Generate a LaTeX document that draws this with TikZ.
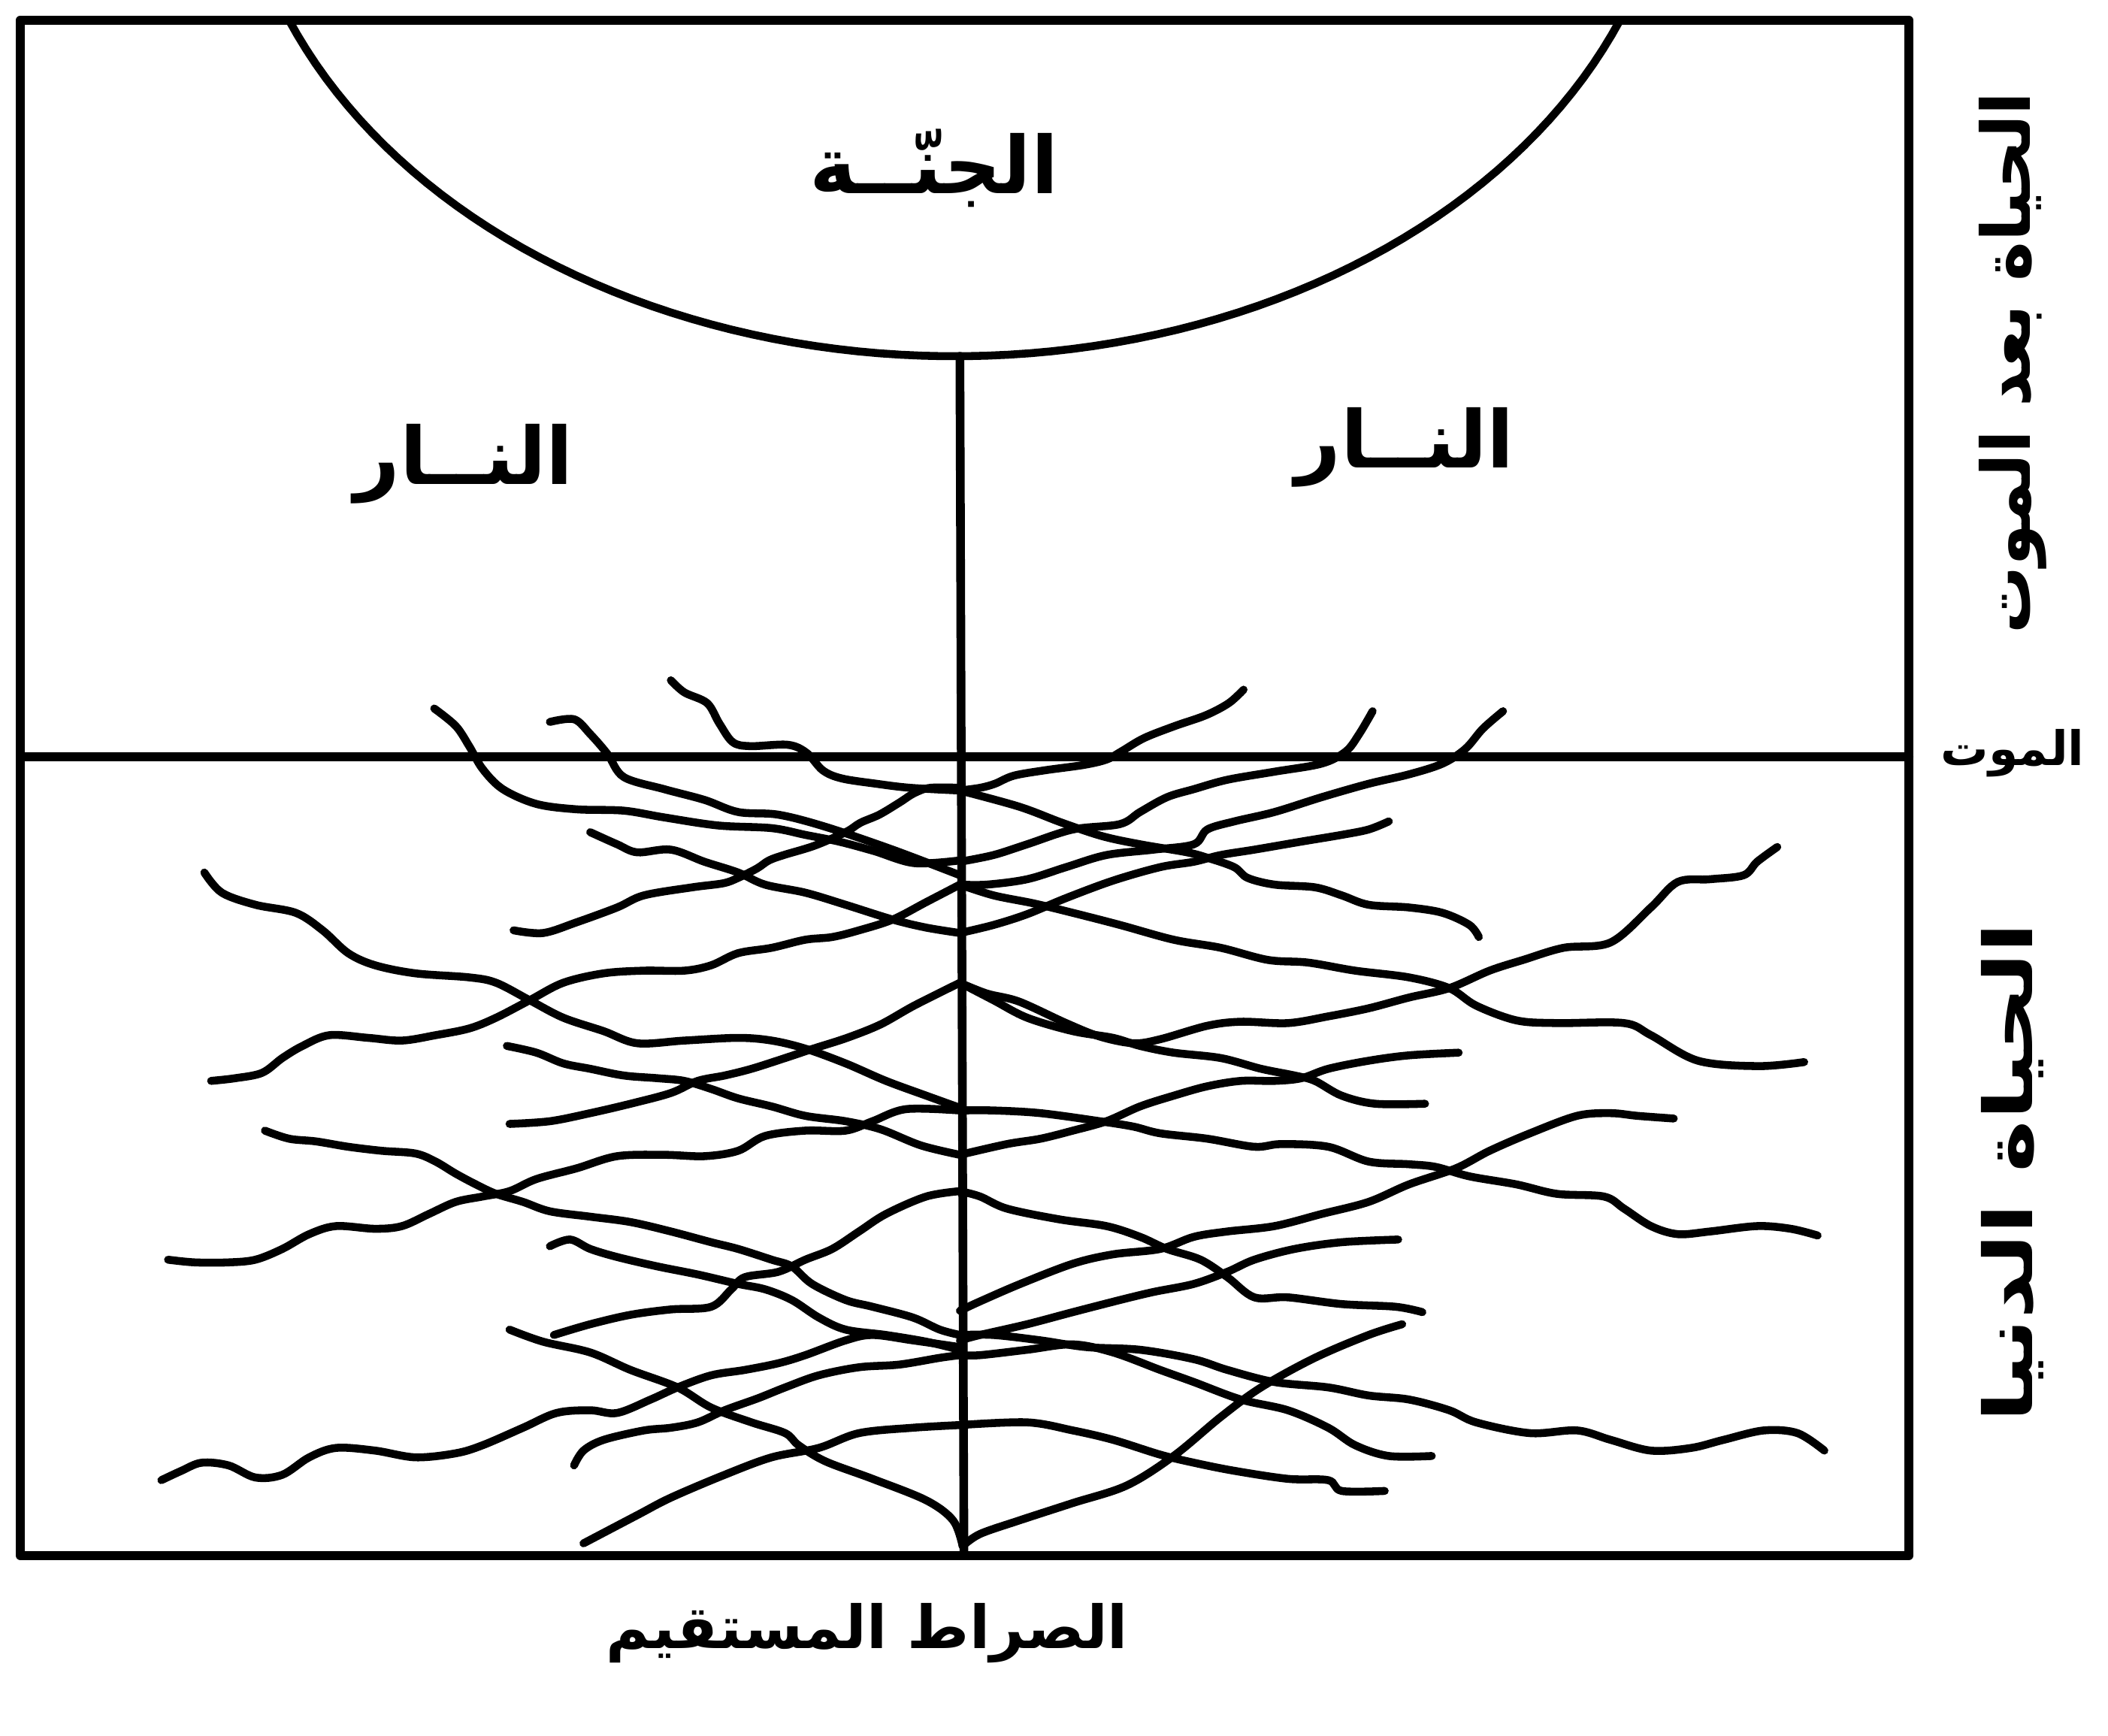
\documentclass[tikz,border=0pt]{standalone}
\usepackage{fontspec}
\newfontfamily\arabicfont[Script=Arabic]{DejaVu Sans Bold}
\TeXXeTstate=1
\begin{document}
\begin{tikzpicture}[x=0.0178890cm, y=-0.0178890cm,
  frame/.style={line width=3.3pt, line cap=round, line join=round},
  wavy/.style={line width=3pt, line cap=round, line join=round},
  lblbig/.style={font=\arabicfont\fontsize{30}{36}\selectfont, inner sep=0pt},
  lblside/.style={font=\arabicfont\fontsize{25.5}{32}\selectfont, inner sep=0pt},
  lbldeath/.style={font=\arabicfont\fontsize{18}{22}\selectfont, inner sep=0pt},
  lblbot/.style={font=\arabicfont\fontsize{22.5}{28}\selectfont, inner sep=0pt}]
\useasboundingbox[fill=white] (0,0) rectangle (1568,1291);

% frame and main lines
\coordinate (tl) at (15,15);
\coordinate (br) at (1420,1157);
\coordinate (dl) at (15,563);
\coordinate (dr) at (1420,563);
\coordinate (top) at (714,265);
\coordinate (bot) at (717,1157);
\draw[frame] (tl) rectangle (br);
\draw[frame] (dl) -- (dr);
\draw[frame] (top) -- (bot);
\draw[line width=3pt] plot[domain=158:22, samples=80] ({710+534*cos(\x)}, {-135+400*sin(\x)});

% labels
\node[lblbig] (jannah) at (695,125) {\beginR الجنّــة\endR};
\node[lblbig] (narL) at (345,345) {\beginR النــار\endR};
\node[lblbig] (narR) at (1045,333) {\beginR النــار\endR};
\node[lblside, rotate=90] (after) at (1497,270) {\beginR الحياة بعد الموت\endR};
\node[lbldeath] (death) at (1497,560) {\beginR الموت\endR};
\node[lblside, rotate=90] (world) at (1497,872) {\scalebox{1.32}[1]{\beginR الحياة الدنيا\endR}};
\node[lblbot] (sirat) at (645,1215) {\beginR الصراط المستقيم\endR};

% left strands
\draw[wavy] plot[smooth, tension=0.55] coordinates {(499,506) (509,515) (526,523) (535,538) (545,552) (558,555) (586,554) (600,560) (612,573) (626,579) (652,583) (677,586) (714,588)};
\draw[wavy] plot[smooth, tension=0.55] coordinates {(409,537) (427,535) (439,546) (452,561) (464,578) (494,587) (524,595) (549,604) (579,606) (614,615) (664,632) (714,651)};
\draw[wavy] plot[smooth, tension=0.55] coordinates {(323,527) (339,540) (349,555) (359,572) (374,587) (399,598) (429,602) (464,603) (494,608) (534,614) (574,616) (599,621) (624,626) (650,633) (680,642) (714,640)};
\draw[wavy] plot[smooth, tension=0.55] coordinates {(439,619) (459,628) (474,634) (499,632) (524,641) (549,649) (569,658) (599,664) (629,673) (664,684) (689,690) (714,694)};
\draw[wavy] plot[smooth, tension=0.55] coordinates {(382,692) (404,694) (429,686) (459,675) (479,666) (515,660) (538,657) (549,653) (563,646) (572,640) (583,636) (606,629) (629,619) (640,612) (654,606) (669,597) (680,590) (692,586) (714,586)};
\draw[wavy] plot[smooth, tension=0.55] coordinates {(152,649) (165,664) (190,673) (220,679) (240,692) (259,709) (279,718) (309,724) (349,727) (369,731) (394,744) (419,757) (449,767) (474,776) (509,774) (549,772) (574,774) (599,780) (629,791) (659,804) (689,815) (714,824)};
\draw[wavy] plot[smooth, tension=0.55] coordinates {(157,804) (175,802) (195,798) (210,787) (225,778) (245,770) (274,772) (299,774) (324,770) (349,765) (369,757) (394,744) (419,731) (449,724) (479,722) (509,722) (529,718) (549,709) (574,705) (599,699) (619,697) (639,692) (664,684) (689,671) (714,658)};
\draw[wavy] plot[smooth, tension=0.55] coordinates {(377,778) (399,783) (419,791) (439,795) (464,800) (489,802) (509,804) (529,810) (549,817) (574,823) (599,830) (629,834) (655,840) (685,852) (714,859)};
\draw[wavy] plot[smooth, tension=0.55] coordinates {(379,836) (409,834) (439,828) (469,821) (499,813) (519,804) (539,800) (559,795) (584,787) (605,780) (630,772) (655,762) (680,748) (714,731)};
\draw[wavy] plot[smooth, tension=0.55] coordinates {(197,841) (215,847) (235,849) (259,853) (284,856) (309,858) (324,864) (339,873) (354,881) (369,888) (389,894) (409,901) (439,905) (469,909) (499,916) (529,924) (549,929) (574,937) (589,942) (604,955) (629,967) (649,972) (679,980) (699,989) (714,993)};
\draw[wavy] plot[smooth, tension=0.55] coordinates {(125,937) (145,939) (170,939) (190,937) (210,929) (230,918) (250,912) (279,914) (299,912) (319,903) (339,894) (359,890) (379,886) (399,877) (429,869) (459,860) (494,859) (524,860) (549,856) (569,845) (599,841) (629,841) (649,834) (674,825) (714,826)};
\draw[wavy] plot[smooth, tension=0.55] coordinates {(409,927) (424,922) (439,929) (459,935) (489,942) (519,948) (549,955) (569,959) (589,967) (609,980) (629,989) (659,993) (689,998) (714,1004)};
\draw[wavy] plot[smooth, tension=0.55] coordinates {(412,993) (439,985) (469,978) (499,974) (529,972) (544,959) (554,950) (579,946) (599,937) (619,929) (639,916) (659,903) (689,890) (714,886)};
\draw[wavy] plot[smooth, tension=0.55] coordinates {(379,989) (404,998) (439,1006) (469,1019) (504,1032) (529,1047) (559,1058) (584,1066) (594,1075) (614,1087) (649,1100) (689,1116) (709,1131) (716,1150)};
\draw[wavy] plot[smooth, tension=0.55] coordinates {(427,1090) (434,1079) (449,1071) (479,1064) (499,1062) (519,1058) (539,1049) (564,1040) (584,1032) (609,1023) (639,1017) (669,1015) (699,1010) (714,1008)};
\draw[wavy] plot[smooth, tension=0.55] coordinates {(120,1101) (135,1094) (150,1088) (170,1090) (190,1099) (210,1097) (230,1084) (250,1077) (279,1079) (309,1084) (339,1081) (359,1075) (389,1062) (414,1051) (439,1049) (459,1051) (484,1041) (504,1032) (529,1023) (554,1019) (579,1014) (599,1008) (629,997) (649,993) (679,997) (714,1002)};
\draw[wavy] plot[smooth, tension=0.55] coordinates {(434,1148) (474,1127) (499,1114) (539,1097) (574,1084) (609,1077) (639,1066) (679,1062) (714,1060)};

% right strands
\draw[wavy] plot[smooth, tension=0.55] coordinates {(925,513) (914,523) (897,532) (874,540) (851,549) (834,559) (823,565) (806,569) (777,573) (754,577) (740,583) (729,586) (714,588)};
\draw[wavy] plot[smooth, tension=0.55] coordinates {(1021,529) (1011,546) (1001,559) (983,568) (948,574) (913,580) (888,587) (868,593) (848,604) (833,613) (798,617) (764,628) (739,636) (714,641)};
\draw[wavy] plot[smooth, tension=0.55] coordinates {(1118,529) (1103,542) (1090,557) (1073,568) (1048,576) (1018,583) (983,593) (948,604) (918,611) (898,617) (888,628) (858,632) (823,636) (793,645) (764,654) (734,658) (714,658)};
\draw[wavy] plot[smooth, tension=0.55] coordinates {(1033,611) (1018,617) (998,621) (968,626) (933,632) (908,636) (888,641) (863,645) (828,655) (793,668) (764,680) (739,688) (714,694)};
\draw[wavy] plot[smooth, tension=0.55] coordinates {(1322,630) (1307,641) (1297,651) (1272,654) (1248,656) (1228,675) (1198,701) (1163,705) (1133,714) (1108,722) (1078,735) (1048,742) (1018,750) (988,756) (958,761) (923,760) (898,763) (863,773) (843,776) (818,771) (793,761) (758,745) (734,739) (714,731)};
\draw[wavy] plot[smooth, tension=0.55] coordinates {(1342,790) (1308,793) (1263,789) (1228,770) (1208,761) (1158,761) (1128,759) (1098,748) (1078,735) (1048,727) (1008,722) (973,716) (943,714) (908,705) (873,699) (833,688) (798,679) (769,672) (739,666) (714,658)};
\draw[wavy] plot[smooth, tension=0.55] coordinates {(1100,697) (1093,688) (1073,679) (1048,675) (1018,673) (998,666) (978,660) (948,658) (928,653) (918,645) (898,638) (883,634) (848,628) (820,622) (790,612) (758,600) (714,588)};
\draw[wavy] plot[smooth, tension=0.55] coordinates {(1085,783) (1048,785) (1018,789) (988,795) (968,802) (948,804) (923,804) (898,808) (873,815) (848,823) (823,834) (798,841) (774,847) (749,851) (714,859)};
\draw[wavy] plot[smooth, tension=0.55] coordinates {(1060,821) (1023,821) (998,815) (978,804) (963,800) (938,795) (908,787) (873,783) (848,778) (828,772) (798,767) (764,757) (739,744) (714,731)};
\draw[wavy] plot[smooth, tension=0.55] coordinates {(1245,832) (1218,830) (1198,828) (1173,830) (1138,843) (1108,856) (1083,869) (1048,881) (1018,894) (983,903) (948,912) (913,916) (888,920) (863,929) (828,933) (798,940) (759,955) (729,968) (714,975)};
\draw[wavy] plot[smooth, tension=0.55] coordinates {(1352,919) (1332,914) (1307,912) (1272,916) (1248,918) (1228,912) (1208,899) (1193,890) (1158,888) (1128,881) (1093,875) (1068,868) (1048,866) (1018,864) (988,853) (953,851) (933,853) (898,847) (863,843) (843,838) (818,834) (774,828) (739,826) (714,826)};
\draw[wavy] plot[smooth, tension=0.55] coordinates {(1040,922) (998,924) (963,929) (933,937) (913,946) (888,955) (858,961) (833,967) (798,976) (764,985) (729,993) (714,997)};
\draw[wavy] plot[smooth, tension=0.55] coordinates {(1058,976) (1038,972) (998,970) (958,965) (933,965) (913,950) (893,937) (868,929) (848,920) (823,912) (788,907) (749,899) (729,890) (714,886)};
\draw[wavy] plot[smooth, tension=0.55] coordinates {(1043,985) (1018,993) (978,1010) (938,1032) (908,1054) (873,1083) (838,1105) (798,1118) (758,1131) (729,1141) (716,1150)};
\draw[wavy] plot[smooth, tension=0.55] coordinates {(1357,1079) (1337,1066) (1312,1064) (1282,1071) (1258,1077) (1228,1079) (1198,1071) (1173,1064) (1138,1066) (1098,1058) (1078,1049) (1048,1041) (1018,1038) (988,1032) (948,1028) (913,1019) (888,1011) (848,1004) (808,1002) (774,997) (739,993) (714,993)};
\draw[wavy] plot[smooth, tension=0.55] coordinates {(1065,1083) (1033,1083) (1008,1075) (988,1062) (958,1049) (923,1041) (888,1028) (863,1019) (828,1006) (798,1000) (764,1004) (729,1008) (714,1008)};
\draw[wavy] plot[smooth, tension=0.55] coordinates {(1030,1109) (998,1109) (988,1101) (958,1100) (918,1094) (888,1088) (863,1082) (828,1071) (798,1064) (764,1058) (714,1060)};
\end{tikzpicture}
\end{document}
